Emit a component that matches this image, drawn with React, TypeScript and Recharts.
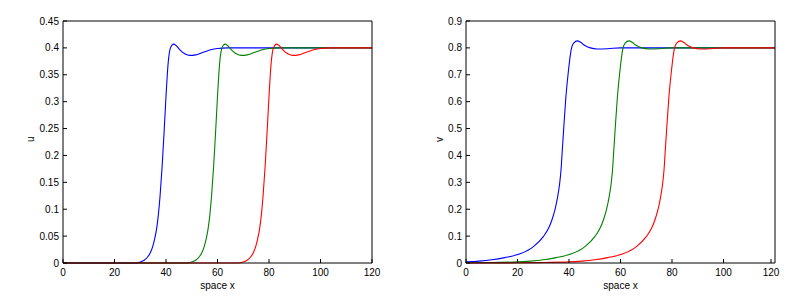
import React from "react";
import { LineChart, Line, XAxis, YAxis } from "recharts";

const xTicks = [0, 20, 40, 60, 80, 100, 120];
const uTicks = [0, 0.05, 0.1, 0.15, 0.2, 0.25, 0.3, 0.35, 0.4, 0.45];
const vTicks = [0, 0.1, 0.2, 0.3, 0.4, 0.5, 0.6, 0.7, 0.8, 0.9];

// u profiles (left panel)
const blueUX = [0, 28, 30, 31.5, 33, 34, 34.8, 35.6, 36.3, 37, 37.7, 38.5, 39.3, 40, 40.5, 41, 41.6, 42.3, 43, 44, 45.5, 47.3, 49.3, 51.5, 54, 57, 60, 64, 120];
const blueU = [0, 0, 0.002, 0.005, 0.012, 0.02, 0.03, 0.045, 0.062, 0.088, 0.125, 0.18, 0.247, 0.31, 0.35, 0.38, 0.398, 0.405, 0.407, 0.404, 0.396, 0.389, 0.386, 0.387, 0.391, 0.396, 0.399, 0.4, 0.4];
const greenUX = [0, 48, 50, 51.5, 53, 54, 54.8, 55.6, 56.3, 57, 57.7, 58.5, 59.3, 60, 60.5, 61, 61.6, 62.3, 63, 64, 65.5, 67.3, 69.3, 71.5, 74, 77, 80, 84, 120];
const greenU = [0, 0, 0.002, 0.005, 0.012, 0.02, 0.03, 0.045, 0.062, 0.088, 0.125, 0.18, 0.247, 0.31, 0.35, 0.38, 0.398, 0.405, 0.407, 0.404, 0.396, 0.389, 0.386, 0.387, 0.391, 0.396, 0.399, 0.4, 0.4];
const redUX = [0, 68, 70, 71.5, 73, 74, 74.8, 75.6, 76.3, 77, 77.7, 78.5, 79.3, 80, 80.5, 81, 81.6, 82.3, 83, 84, 85.5, 87.3, 89.3, 91.5, 94, 97, 100, 104, 120];
const redU = [0, 0, 0.002, 0.005, 0.012, 0.02, 0.03, 0.045, 0.062, 0.088, 0.125, 0.18, 0.247, 0.31, 0.35, 0.38, 0.398, 0.405, 0.407, 0.404, 0.396, 0.389, 0.386, 0.387, 0.391, 0.396, 0.399, 0.4, 0.4];

// v profiles (right panel)
const blueVX = [0, 5, 10, 15, 21, 26.3, 30.1, 32, 33.4, 34.6, 35.6, 36.3, 36.9, 37.4, 37.9, 38.8, 39.8, 40.8, 41.8, 43.3, 44.5, 46, 48.3, 51, 55, 60, 120];
const blueV = [0.004, 0.007, 0.012, 0.02, 0.034, 0.062, 0.099, 0.128, 0.161, 0.2, 0.247, 0.29, 0.346, 0.42, 0.494, 0.618, 0.717, 0.791, 0.818, 0.826, 0.821, 0.81, 0.8, 0.796, 0.797, 0.8, 0.8];
const greenVX = [0, 10, 20, 25, 30, 35, 41, 46.3, 50.1, 52, 53.4, 54.6, 55.6, 56.3, 56.9, 57.4, 57.9, 58.8, 59.8, 60.8, 61.8, 63.3, 64.5, 66, 68.3, 71, 75, 80, 120];
const greenV = [0.0007, 0.002, 0.004, 0.007, 0.012, 0.02, 0.034, 0.062, 0.099, 0.128, 0.161, 0.2, 0.247, 0.29, 0.346, 0.42, 0.494, 0.618, 0.717, 0.791, 0.818, 0.826, 0.821, 0.81, 0.8, 0.796, 0.797, 0.8, 0.8];
const redVX = [0, 20, 30, 40, 45, 50, 55, 61, 66.3, 70.1, 72, 73.4, 74.6, 75.6, 76.3, 76.9, 77.4, 77.9, 78.8, 79.8, 80.8, 81.8, 83.3, 84.5, 86, 88.3, 91, 95, 100, 120];
const redV = [0.0001, 0.0007, 0.002, 0.004, 0.007, 0.012, 0.02, 0.034, 0.062, 0.099, 0.128, 0.161, 0.2, 0.247, 0.29, 0.346, 0.42, 0.494, 0.618, 0.717, 0.791, 0.818, 0.826, 0.821, 0.81, 0.8, 0.796, 0.797, 0.8, 0.8];

const toPoints = (xs: number[], ys: number[]) => xs.map((x, i) => ({ x, y: ys[i] }));

const TICK = 4;
const FONT = 10;

const BottomTick = (props: any) => {
  const { x, y, payload } = props;
  return (
    <g>
      <line x1={x} x2={x} y1={y - 6} y2={y - 6 - TICK} stroke="#000" />
      <text x={x} y={y} dy="0.71em" textAnchor="middle" fontSize={FONT} fill="#000">
        {payload.value}
      </text>
    </g>
  );
};

const LeftTick = (props: any) => {
  const { x, y, payload } = props;
  return (
    <g>
      <line x1={x + 4} x2={x + 4 + TICK} y1={y} y2={y} stroke="#000" />
      <text x={x} y={y} dy="0.355em" textAnchor="end" fontSize={FONT} fill="#000">
        {payload.value}
      </text>
    </g>
  );
};

const NoLabel = () => <g />;

type Series = { xs: number[]; ys: number[]; color: string };

const Panel = ({ series, yTicks, yMax, yLabel, left, labelOffset }: {
  series: Series[]; yTicks: number[]; yMax: number; yLabel: string; left: number; labelOffset: number;
}) => (
  <div style={{ position: "absolute", left: left, top: 0 }}>
    <LineChart width={left === 0 ? 382 : 389} height={288}
      margin={{ top: 13, right: left === 0 ? 18 : 8, bottom: 3, left: left === 0 ? 10 : 27 }}>
      <XAxis type="number" dataKey="x" domain={[0, 120]} ticks={xTicks} height={30}
        stroke="#000" tickLine={false} tickSize={0} tickMargin={6} tick={<BottomTick />}
        label={{ value: "space x", position: "insideBottom", offset: 4, fontSize: FONT, fill: "#000" }} />
      <XAxis xAxisId="top" orientation="top" type="number" dataKey="x" domain={[0, 120]} ticks={xTicks}
        mirror stroke="#000" tickSize={TICK} tick={NoLabel} />
      <YAxis type="number" domain={[0, yMax]} ticks={yTicks} width={45}
        stroke="#000" tickLine={false} tickSize={0} tickMargin={4} tick={<LeftTick />}
        label={{ value: yLabel, angle: -90, position: "insideLeft", offset: labelOffset, fontSize: FONT, fill: "#000" }} />
      <YAxis yAxisId="right" orientation="right" type="number" domain={[0, yMax]} ticks={yTicks}
        mirror stroke="#000" tickSize={TICK} tick={NoLabel} />
      {series.map((s, i) => (
        <Line key={i} data={toPoints(s.xs, s.ys)} dataKey="y" type="monotone" stroke={s.color}
          strokeWidth={1.1} dot={false} isAnimationActive={false} />
      ))}
    </LineChart>
  </div>
);

const App = () => (
  <div style={{ position: "relative", width: 772, height: 288, fontFamily: "'Liberation Sans', Arial, sans-serif" }}>
    <Panel left={0} yLabel="u" yTicks={uTicks} yMax={0.45} labelOffset={12}
      series={[
        { xs: blueUX, ys: blueU, color: "#0000ff" },
        { xs: greenUX, ys: greenU, color: "#008000" },
        { xs: redUX, ys: redU, color: "#ff0000" },
      ]} />
    <Panel left={386} yLabel="v" yTicks={vTicks} yMax={0.9} labelOffset={18}
      series={[
        { xs: blueVX, ys: blueV, color: "#0000ff" },
        { xs: greenVX, ys: greenV, color: "#008000" },
        { xs: redVX, ys: redV, color: "#ff0000" },
      ]} />
  </div>
);

export default App;
